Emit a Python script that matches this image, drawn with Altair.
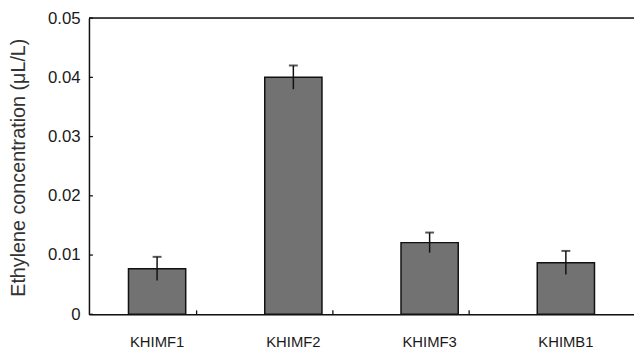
import altair as alt
import pandas as pd

categories = ["KHIMF1", "KHIMF2", "KHIMF3", "KHIMB1"]
values = [0.0077, 0.0400, 0.0121, 0.0087]
errors = [0.0020, 0.0020, 0.0017, 0.0020]
y_ticks = [0, 0.01, 0.02, 0.03, 0.04, 0.05]
boundary_cats = ["KHIMF2", "KHIMF3", "KHIMB1"]

df = pd.DataFrame({"cat": categories, "v": values, "e": errors})
df["lo"] = df["v"] - df["e"]
df["hi"] = df["v"] + df["e"]
ticks_df = pd.DataFrame({"t": y_ticks})
bnd_df = pd.DataFrame({"cat": boundary_cats})
top_df = pd.DataFrame({"top": [0.05]})

FONT = "Liberation Sans"
xscale = alt.Scale(domain=categories, paddingInner=0.58, paddingOuter=0.29)
yscale = alt.Scale(domain=[0, 0.05], nice=False)

x_axis = alt.Axis(title=None, labelAngle=0, ticks=False, labelPadding=21,
                  labelFont=FONT, labelFontSize=15, labelColor="#1a1a1a",
                  domainColor="#111", domainWidth=1.5, grid=False)
y_axis = alt.Axis(title="Ethylene concentration (μL/L)", values=y_ticks, format=".2~f",
                  ticks=False, labelPadding=9, labelFont=FONT, labelFontSize=17,
                  labelColor="#1a1a1a", domainColor="#111", domainWidth=1.5, grid=False,
                  titleFont=FONT, titleFontSize=20, titleFontWeight="normal",
                  titleColor="#333", titleX=-71, titleY=151, titleAngle=-90,
                  titleBaseline="middle", titleAlign="center")


def X():
    return alt.X("cat:N", scale=xscale, sort=categories, axis=x_axis)


def Y(field):
    return alt.Y(field, scale=yscale, axis=y_axis, title="Ethylene concentration (μL/L)")


bars = alt.Chart(df).mark_bar(fill="#727272", stroke="#111", strokeWidth=1.5).encode(
    x=X(), y=Y("v:Q"),
)

err = alt.Chart(df).mark_rule(color="#111", strokeWidth=1.5).encode(
    x=X(), y=Y("lo:Q"), y2="hi:Q",
)

caps = alt.Chart(df).mark_tick(color="#111", thickness=2, size=9, orient="horizontal").encode(
    x=X(), y=Y("hi:Q"),
)

yt = alt.Chart(ticks_df).mark_rule(color="#111", strokeWidth=1.3).encode(
    y=Y("t:Q"),
    x=alt.value(0), x2=alt.value(4),
)

xt = alt.Chart(bnd_df).mark_rule(color="#111", strokeWidth=1.3).encode(
    x=X(),
    xOffset=alt.value(-69),
    y=alt.value(300), y2=alt.value(296),
)

top = alt.Chart(top_df).mark_rule(color="#111", strokeWidth=1.5).encode(
    y=Y("top:Q"),
)

chart = alt.layer(bars, err, caps, yt, xt, top).properties(
    width=552, height=300,
    autosize=alt.AutoSizeParams(type="none"),
    padding={"left": 82, "top": 8, "right": 0, "bottom": 40},
).configure_view(stroke=None).configure(background="white")

chart.save("out.html", embed_options={"renderer": "svg", "actions": False})
